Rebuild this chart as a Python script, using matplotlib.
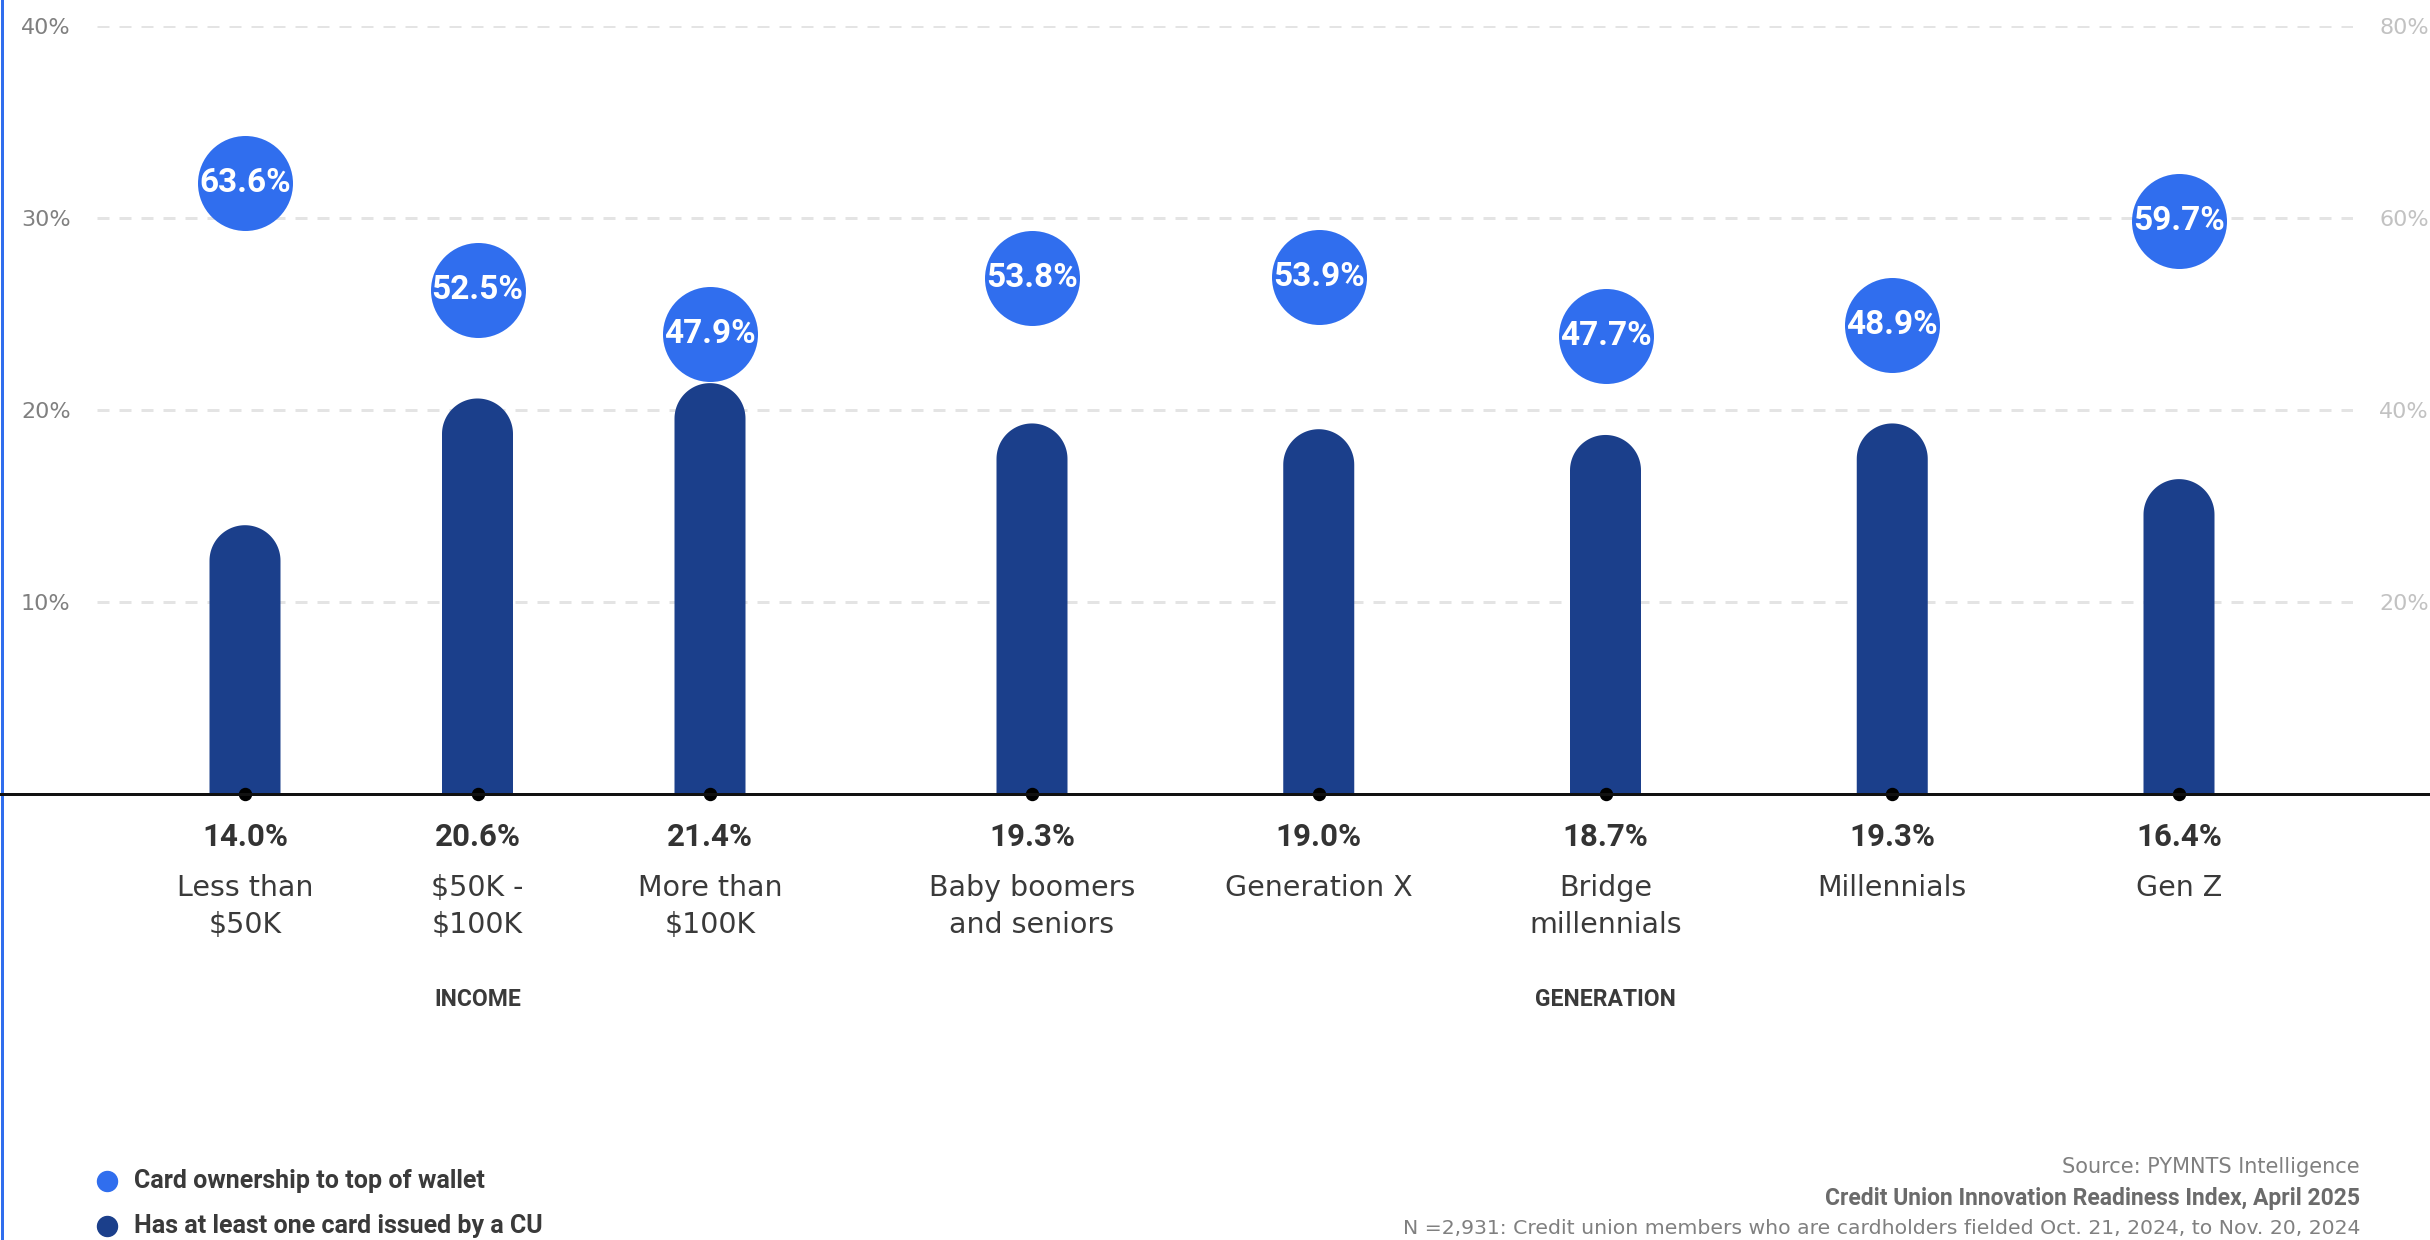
import numpy as np
import matplotlib
matplotlib.use("Agg")
import matplotlib.pyplot as plt
from matplotlib.lines import Line2D
from matplotlib.patches import Polygon
from matplotlib import transforms

plt.rcParams["lines.scale_dashes"] = False

# data
income_labels = ["Less than\n$50K", "$50K -\n$100K", "More than\n$100K"]
income_cu = [14.0, 20.6, 21.4]
income_wallet = [63.6, 52.5, 47.9]

gen_labels = ["Baby boomers\nand seniors", "Generation X", "Bridge\nmillennials", "Millennials", "Gen Z"]
gen_cu = [19.3, 19.0, 18.7, 19.3, 16.4]
gen_wallet = [53.8, 53.9, 47.7, 48.9, 59.7]

left_ticks = [10, 20, 30, 40]
right_ticks = [20, 40, 60, 80]

BLUE = "#306EEE"
NAVY = "#1B3F8B"
DARK = "#3a3a3a"

W, H = 2430, 1240
DPI = 100
PT = 72 / DPI  # points per pixel


def fx(px):
    return px / W


def fy(py):
    return 1 - py / H


base_y = 794
top_y = 26
px_per_pct = (base_y - top_y) / 40

fig = plt.figure(figsize=(W / DPI, H / DPI), dpi=DPI)

# background grid + both y scales
ax = fig.add_axes([fx(97), fy(base_y), fx(2353) - fx(97), (base_y - top_y) / H])
ax.set_xlim(0, 1)
ax.set_ylim(0, 40)
ax.patch.set_visible(False)
for s in ax.spines.values():
    s.set_visible(False)
for t in left_ticks:
    ax.axhline(t, color="#e4e4e4", lw=3 * PT, dashes=(12 * PT, 10 * PT), zorder=0)
ax.set_xticks([])
ax.set_yticks(left_ticks, [f"{t}%" for t in left_ticks])
ax.tick_params(axis="y", length=0, pad=19, labelsize=16, labelcolor="#808080")

axr = ax.twinx()
axr.set_ylim(0, 80)
for s in axr.spines.values():
    s.set_visible(False)
axr.set_yticks(right_ticks, [f"{t}%" for t in right_ticks])
axr.tick_params(axis="y", length=0, pad=19, labelsize=16, labelcolor="#c2c2c2")

# baseline and left border
fig.add_artist(Line2D([0, 1], [fy(base_y)] * 2, transform=fig.transFigure,
                      color="#111111", lw=3 * PT, zorder=3))
fig.add_artist(Line2D([fx(1.5)] * 2, [0, 1], transform=fig.transFigure,
                      color=BLUE, lw=3 * PT))


def pill(xc, top, w, r):
    # bar outline with a half-round cap; r is the cap height in y units
    t = np.linspace(0, np.pi, 60)
    arc = np.column_stack([xc + w / 2 * np.cos(t), top - r + r * np.sin(t)])
    pts = np.vstack([[xc - w / 2, 0], [xc + w / 2, 0], arc])
    return Polygon(pts, closed=True, fc=NAVY, ec="none", zorder=2)


def draw_group(center0, step, labels, cu, wallet, title):
    n = len(labels)
    left = center0 - step / 2
    axg = fig.add_axes([fx(left), fy(base_y), n * step / W, (base_y - top_y) / H])
    axg.set_xlim(-0.5, n - 0.5)
    axg.set_ylim(0, 40)
    axg.axis("off")
    x = np.arange(n)
    w = 71 / step
    r = 35.5 / px_per_pct
    for xi, v in zip(x, cu):
        axg.add_patch(pill(xi, v, w, r))
    axg.scatter(x, np.zeros(n), s=(12 * PT) ** 2, color="black", clip_on=False, zorder=6)

    axc = axg.twinx()
    axc.set_ylim(0, 80)
    axc.axis("off")
    axc.scatter(x, wallet, s=(95 * PT) ** 2, color=BLUE, lw=0, zorder=4)
    for xi, v in zip(x, wallet):
        axc.text(xi, v, f"{v:.1f}%", ha="center", va="center", color="white",
                 fontsize=24, fontweight="bold", family="Roboto", zorder=5)

    tr = transforms.blended_transform_factory(axg.transData, fig.transFigure)
    for xi, v, lab in zip(x, cu, labels):
        axg.text(xi, fy(837), f"{v:.1f}%", transform=tr, ha="center", va="center",
                 fontsize=22.5, fontweight="bold", family="Roboto", color="#333333")
        for k, line in enumerate(lab.split("\n")):
            axg.text(xi, fy(888 + 37 * k), line, transform=tr, ha="center", va="center",
                     fontsize=20.5, color=DARK)
    axg.text((n - 1) / 2, fy(999), title, transform=tr, ha="center", va="center",
             fontsize=16.5, fontweight="bold", family="Roboto", color=DARK)


draw_group(245, 232.5, income_labels, income_cu, income_wallet, "INCOME")
draw_group(1032, 286.75, gen_labels, gen_cu, gen_wallet, "GENERATION")

# legend
for yy, col, txt in [(1181, BLUE, "Card ownership to top of wallet"),
                     (1226, NAVY, "Has at least one card issued by a CU")]:
    fig.add_artist(Line2D([fx(107)], [fy(yy)], transform=fig.transFigure, marker="o",
                          markersize=20 * PT, color=col, lw=0))
    fig.text(fx(134), fy(yy), txt, ha="left", va="center", fontsize=18,
             fontweight="bold", family="Roboto", color=DARK)

# source notes
fig.text(fx(2360), fy(1167), "Source: PYMNTS Intelligence", ha="right", va="center",
         fontsize=15, color="#808080")
fig.text(fx(2360), fy(1198), "Credit Union Innovation Readiness Index, April 2025",
         ha="right", va="center", fontsize=16.5, fontweight="bold", family="Roboto",
         color="#6b6b6b")
fig.text(fx(2360), fy(1228),
         "N =2,931: Credit union members who are cardholders fielded Oct. 21, 2024, to Nov. 20, 2024",
         ha="right", va="center", fontsize=14.7, color="#808080")

fig.savefig("out.png", dpi=DPI)
